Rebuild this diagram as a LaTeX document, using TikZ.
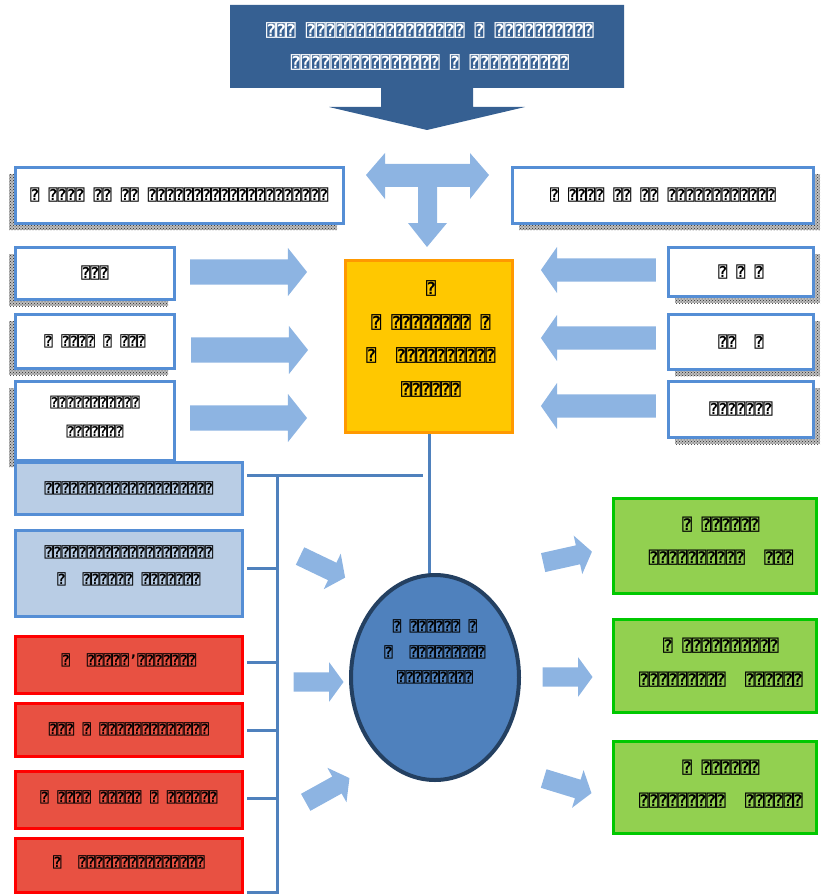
\documentclass[tikz,border=0pt]{standalone}
\usepackage{fontspec}
\newfontfamily\tofu{DejaVu Sans Mono}
\usetikzlibrary{shapes.geometric,shapes.arrows,patterns,shadows}
\definecolor{bannerblue}{RGB}{54,96,146}
\definecolor{arrowblue}{RGB}{141,180,226}
\definecolor{boxblue}{RGB}{85,142,213}
\definecolor{lineblue}{RGB}{79,129,189}
\definecolor{lightfill}{RGB}{185,205,229}
\definecolor{redfill}{RGB}{232,81,66}
\definecolor{redline}{RGB}{255,0,0}
\definecolor{gold}{RGB}{255,200,0}
\definecolor{orangeline}{RGB}{255,153,0}
\definecolor{ellfill}{RGB}{79,129,189}
\definecolor{ellline}{RGB}{36,64,97}
\definecolor{greenfill}{RGB}{146,208,80}
\definecolor{greenline}{RGB}{0,200,0}
\definecolor{shadowgray}{RGB}{40,40,40}
\definecolor{shadowbase}{RGB}{190,190,190}
\begin{document}
\begin{tikzpicture}[x=1pt,y=-1pt,
  ts/.style 2 args={font=\tofu\bfseries\fontsize{#1}{#2}\selectfont, align=center, inner sep=0pt},
  wbox/.style={draw=boxblue, line width=3.5pt, fill=white, inner sep=0pt},
  lshad/.style={drop shadow={shadow xshift=-6.5pt, shadow yshift=-6.5pt, fill=shadowbase, opacity=1},
                drop shadow={shadow xshift=-6.5pt, shadow yshift=-6.5pt, pattern=crosshatch dots, pattern color=shadowgray, opacity=1}},
  rshad/.style={drop shadow={shadow xshift=6.5pt, shadow yshift=-6.5pt, fill=shadowbase, opacity=1},
                drop shadow={shadow xshift=6.5pt, shadow yshift=-6.5pt, pattern=crosshatch dots, pattern color=shadowgray, opacity=1}},
  lbbox/.style={draw=boxblue, line width=3.5pt, fill=lightfill, inner sep=0pt, minimum width=227, minimum height=#1},
  redbox/.style={draw=redline, line width=3.5pt, fill=redfill, inner sep=0pt, minimum width=227, minimum height=#1},
  grbox/.style={draw=greenline, line width=3.5pt, fill=greenfill, inner sep=0pt, minimum width=203, minimum height=#1},
  barrow/.style={single arrow, fill=arrowblue, draw=none, inner xsep=0pt, anchor=center},
  bigarrow/.style={barrow, minimum height=117, inner ysep=12.5pt, single arrow head extend=11.5pt, single arrow tip angle=103},
  bigarrowl/.style={barrow, rotate=180, minimum height=115, inner ysep=11.5pt, single arrow head extend=11.5pt, single arrow tip angle=110},
  smallarrow/.style={barrow, minimum height=50, inner ysep=9.5pt, single arrow head extend=10pt, single arrow tip angle=108},
  conn/.style={draw=lineblue, line width=3pt}
]
\useasboundingbox (0,0) rectangle (822,896);

% banner
\fill[bannerblue] (230,5) -- (624,5) -- (624,88) -- (473,88) -- (473,107) -- (525,107) -- (427,130)
  -- (329,107) -- (381,107) -- (381,88) -- (230,88) -- cycle;
\node[ts={16.5}{32}, text=white] (banner) at (430,46)
  {⍰⍰⍰ ⍰⍰⍰⍰⍰⍰⍰⍰⍰⍰⍰⍰⍰⍰⍰⍰ ⍰ ⍰⍰⍰⍰⍰⍰⍰⍰⍰⍰\\⍰⍰⍰⍰⍰⍰⍰⍰⍰⍰⍰⍰⍰⍰⍰ ⍰ ⍰⍰⍰⍰⍰⍰⍰⍰⍰⍰};

% three-way arrow
\fill[arrowblue] (366,175) -- (385,153) -- (385,164) -- (470,164) -- (470,153) -- (489,175) -- (470,199)
  -- (470,187) -- (437,187) -- (437,223) -- (447,223) -- (427,247) -- (408,223) -- (418,223)
  -- (418,187) -- (385,187) -- (385,199) -- cycle;

% top title boxes
\node[wbox, lshad, minimum width=328, minimum height=56, ts={15}{15}] (tl) at (179.5,195.5)
  {⍰ ⍰⍰⍰⍰ ⍰⍰ ⍰⍰ ⍰⍰⍰⍰⍰⍰⍰⍰⍰⍰⍰⍰⍰⍰⍰⍰⍰⍰⍰⍰};
\node[wbox, rshad, minimum width=301, minimum height=56, ts={15}{15}] (tr) at (663,195.5)
  {⍰ ⍰⍰⍰⍰ ⍰⍰ ⍰⍰ ⍰⍰⍰⍰⍰⍰⍰⍰⍰⍰⍰⍰};

% left input boxes
\node[wbox, lshad, minimum width=159, minimum height=52, ts={15}{15}] (l1) at (95,273.5) {⍰⍰⍰};
\node[wbox, lshad, minimum width=159, minimum height=54, ts={14}{14}] (l2) at (95,341.5) {⍰ ⍰⍰⍰⍰ ⍰ ⍰⍰⍰};
\node[wbox, lshad, minimum width=159, minimum height=79] (l3) at (95,421) {};
\node[ts={13.5}{29}] (l3t) at (95,417) {⍰⍰⍰⍰⍰⍰⍰⍰⍰⍰⍰\\⍰⍰⍰⍰⍰⍰⍰};

% right input boxes
\node[wbox, rshad, minimum width=145, minimum height=49, ts={15}{15}] (r1) at (741,272) {⍰ ⍰ ⍰};
\node[wbox, rshad, minimum width=145, minimum height=55, ts={15}{15}] (r2) at (741,342) {⍰⍰~~⍰};
\node[wbox, rshad, minimum width=145, minimum height=56, ts={15}{15}] (r3) at (741,409.5) {⍰⍰⍰⍰⍰⍰⍰};

% arrows into centre box
\node[bigarrow] (al1) at (243.5,272) {};
\node[bigarrow] (al2) at (244.5,350) {};
\node[bigarrow] (al3) at (243.5,418) {};
\node[bigarrowl] (ar1) at (602.5,270) {};
\node[bigarrowl] (ar2) at (602.5,338) {};
\node[bigarrowl] (ar3) at (602.5,406) {};

% centre box
\node[draw=orangeline, fill=gold, line width=3pt, minimum width=167, minimum height=172, inner sep=0pt] (yel) at (429,346.5) {};
\node[ts={16.5}{33.5}] (yelt) at (431,339) {⍰\\⍰ ⍰⍰⍰⍰⍰⍰⍰⍰ ⍰\\⍰~~⍰⍰⍰⍰⍰⍰⍰⍰⍰⍰\\⍰⍰⍰⍰⍰⍰};

% connector lines
\coordinate (h0) at (247,475);
\coordinate (h1) at (423,475);
\coordinate (bk0) at (277,475);
\coordinate (bk5) at (277,892);
\coordinate (k1) at (247,568);
\coordinate (k2) at (247,662);
\coordinate (k3) at (247,730);
\coordinate (k4) at (247,798);
\coordinate (k5) at (247,892);
\draw[conn] (h0) -- (h1);
\draw[conn] (bk0) -- (bk5) -- (k5);
\draw[conn] (k1) -- (k1 -| bk0);
\draw[conn] (k2) -- (k2 -| bk0);
\draw[conn] (k3) -- (k3 -| bk0);
\draw[conn] (k4) -- (k4 -| bk0);

% lower left boxes
\node[lbbox=52, ts={14}{14}] (A) at (129,488.5) {⍰⍰⍰⍰⍰⍰⍰⍰⍰⍰⍰⍰⍰⍰⍰⍰⍰⍰⍰⍰};
\node[lbbox=86] (B) at (129,573.5) {};
\node[ts={14}{27}] (Bt) at (129,565.5) {⍰⍰⍰⍰⍰⍰⍰⍰⍰⍰⍰⍰⍰⍰⍰⍰⍰⍰⍰⍰\\⍰~~⍰⍰⍰⍰⍰⍰ ⍰⍰⍰⍰⍰⍰⍰};
\node[redbox=57] (R1) at (129,665) {};
\node[ts={14}{14}] (R1t) at (129,660) {⍰~~⍰⍰⍰⍰⍰’⍰⍰⍰⍰⍰⍰⍰};
\node[redbox=53] (R2) at (129,730) {};
\node[ts={14}{14}] (R2t) at (129,729) {⍰⍰⍰ ⍰ ⍰⍰⍰⍰⍰⍰⍰⍰⍰⍰⍰⍰⍰};
\node[redbox=57] (R3) at (129,800) {};
\node[ts={14}{14}] (R3t) at (129,797) {⍰ ⍰⍰⍰⍰ ⍰⍰⍰⍰⍰ ⍰ ⍰⍰⍰⍰⍰⍰};
\node[redbox=54] (R4) at (129,865.5) {};
\node[ts={14}{14}] (R4t) at (129,862) {⍰~~⍰⍰⍰⍰⍰⍰⍰⍰⍰⍰⍰⍰⍰⍰⍰};

% centre line to ellipse
\draw[conn] (yel.south) -- (yel.south |- 0,600);

% ellipse
\node[ellipse, fill=ellfill, draw=ellline, line width=4pt, minimum width=168, minimum height=205, inner sep=0pt] (ell) at (435,677.5) {};
\node[ts={14}{25.5}] (ellt) at (435,652) {⍰ ⍰⍰⍰⍰⍰⍰ ⍰\\⍰~~⍰⍰⍰⍰⍰⍰⍰⍰⍰\\⍰⍰⍰⍰⍰⍰⍰⍰⍰};

% arrows around ellipse
\node[smallarrow, rotate=-25.6] (ai1) at (319.4,565.3) {};
\node[smallarrow] (ai2) at (315,682) {};
\node[smallarrow, rotate=29] (ai3) at (324.5,791.9) {};
\node[smallarrow, rotate=12.6] (ao1) at (564.1,557.9) {};
\node[smallarrow] (ao2) at (564,677) {};
\node[smallarrow, rotate=-17] (ao3) at (564.2,784.8) {};

% green result boxes
\node[grbox=95] (G1) at (715,546) {};
\node[ts={16}{33}] (G1t) at (721,541) {⍰ ⍰⍰⍰⍰⍰⍰\\⍰⍰⍰⍰⍰⍰⍰⍰⍰⍰~~⍰⍰⍰};
\node[grbox=93] (G2) at (715,666) {};
\node[ts={16}{34}] (G2t) at (721,663) {⍰ ⍰⍰⍰⍰⍰⍰⍰⍰⍰⍰\\⍰⍰⍰⍰⍰⍰⍰⍰⍰~~⍰⍰⍰⍰⍰⍰};
\node[grbox=92] (G3) at (715,787.5) {};
\node[ts={16}{33}] (G3t) at (721,784) {⍰ ⍰⍰⍰⍰⍰⍰\\⍰⍰⍰⍰⍰⍰⍰⍰⍰~~⍰⍰⍰⍰⍰⍰};
\end{tikzpicture}
\end{document}
